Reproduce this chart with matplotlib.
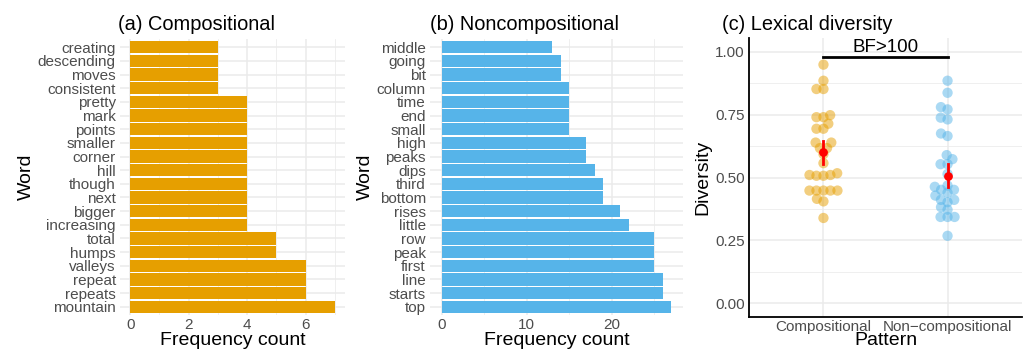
import numpy as np
import matplotlib
matplotlib.use("Agg")
import matplotlib.pyplot as plt

plt.rcParams['font.family'] = ['Liberation Sans', 'DejaVu Sans']

# Word frequencies, compositional patterns (bottom to top)
comp_words = ['mountain', 'repeats', 'repeat', 'valleys', 'humps', 'total',
              'increasing', 'bigger', 'next', 'though', 'hill', 'corner',
              'smaller', 'points', 'mark', 'pretty', 'consistent', 'moves',
              'descending', 'creating']
comp_counts = [7, 6, 6, 6, 5, 5, 4, 4, 4, 4, 4, 4, 4, 4, 4, 4, 3, 3, 3, 3]

# Word frequencies, noncompositional patterns (bottom to top)
noncomp_words = ['top', 'starts', 'line', 'first', 'peak', 'row', 'little',
                 'rises', 'bottom', 'third', 'dips', 'peaks', 'high', 'small',
                 'end', 'time', 'column', 'bit', 'going', 'middle']
noncomp_counts = [27, 26, 26, 25, 25, 25, 22, 21, 19, 19, 18, 17, 17, 15,
                  15, 15, 15, 14, 14, 13]

# Lexical diversity per participant
div_comp = [0.949, 0.885, 0.852, 0.852, 0.748, 0.740, 0.740, 0.714, 0.694,
            0.694, 0.639, 0.639, 0.617, 0.617, 0.593, 0.557, 0.517, 0.510,
            0.510, 0.507, 0.507, 0.448, 0.448, 0.448, 0.448, 0.448, 0.415,
            0.405, 0.339]
div_noncomp = [0.885, 0.837, 0.780, 0.771, 0.738, 0.731, 0.675, 0.665, 0.589,
               0.573, 0.553, 0.553, 0.514, 0.468, 0.463, 0.451, 0.451, 0.440,
               0.428, 0.411, 0.411, 0.402, 0.382, 0.372, 0.343, 0.343, 0.343,
               0.268]
# mean and interval (low, high)
summ_comp = (0.600, 0.552, 0.645)
summ_noncomp = (0.506, 0.461, 0.555)

patterns = ['Compositional', 'Non\u2212compositional']
orange = '#E69F00'
blue = '#56B4E9'
grid_c = '#EBEBEB'
tick_c = '#4D4D4D'

fig = plt.figure(figsize=(10.26, 3.53), dpi=100)
W, H = 1026, 353


def px_axes(x0, y0, x1, y1):
    return fig.add_axes([x0 / W, 1 - y1 / H, (x1 - x0) / W, (y1 - y0) / H])


def bar_panel(ax, words, counts, color, major, minor, xmax):
    y = np.arange(1, len(words) + 1)
    ax.barh(y, counts, height=0.9, color=color, zorder=2)
    ax.set_ylim(0.4, len(words) + 0.6)
    ax.set_xlim(-0.05 * xmax, 1.05 * xmax)
    ax.set_yticks(y)
    ax.set_yticklabels(words)
    ax.set_xticks(major)
    ax.set_xticks(minor, minor=True)
    ax.grid(True, which='major', color=grid_c, lw=1.1, zorder=0)
    ax.grid(True, which='minor', axis='x', color=grid_c, lw=0.55, zorder=0)
    for s in ax.spines.values():
        s.set_visible(False)
    ax.tick_params(length=0, labelsize=11, labelcolor=tick_c)
    ax.tick_params(axis='x', pad=2)
    ax.tick_params(axis='y', pad=3)
    ax.tick_params(which='minor', length=0)
    ax.set_xlabel('Frequency count', fontsize=14, labelpad=0)
    ax.set_ylabel('Word', fontsize=14, labelpad=2)


ax1 = px_axes(120, 39, 345, 315)
bar_panel(ax1, comp_words, comp_counts, orange, [0, 2, 4, 6], [1, 3, 5, 7], 7)
fig.text(118 / W, 1 - 30 / H, '(a) Compositional', fontsize=14.4, ha='left')

ax2 = px_axes(430, 39, 683, 315)
bar_panel(ax2, noncomp_words, noncomp_counts, blue, [0, 10, 20], [5, 15, 25], 27)
fig.text(430 / W, 1 - 30 / H, '(b) Noncompositional', fontsize=14.4, ha='left')


def swarm(vals, diam_px, xscale, yscale):
    # simple beeswarm: place each point at smallest |offset| without overlap
    order = np.argsort(vals)
    placed = []
    offs = np.zeros(len(vals))
    for i in order:
        yi = vals[i] * yscale
        near = [(xo, yo) for xo, yo in placed if abs(yo - yi) < diam_px]
        cands = [0.0]
        for xo, yo in near:
            dx = np.sqrt(diam_px ** 2 - (yo - yi) ** 2)
            cands += [xo + dx, xo - dx]
        cands.sort(key=lambda c: (abs(c), c))
        for c in cands:
            if all((c - xo) ** 2 + (yo - yi) ** 2 >= diam_px ** 2 - 1e-6
                   for xo, yo in near):
                offs[i] = c
                placed.append((c, yi))
                break
    return offs / xscale


ax3 = px_axes(749, 38, 1022, 317)
ax3.set_xlim(0.4, 2.6)
ax3.set_ylim(-0.055, 1.055)
xs_px = 273 / 2.2
ys_px = 279 / 1.11
for k, (vals, col, sm) in enumerate([(div_comp, orange, summ_comp),
                                     (div_noncomp, blue, summ_noncomp)]):
    vals = np.array(vals)
    xo = swarm(vals, 7.0, xs_px, ys_px)
    ax3.scatter(k + 1 + xo, vals, s=55, color=col, alpha=0.5,
                edgecolors='none', zorder=3)
    ax3.plot([k + 1, k + 1], [sm[1], sm[2]], color='red', lw=2, zorder=4)
    ax3.scatter([k + 1], [sm[0]], s=28, color='red', zorder=5)

ax3.plot([1, 2], [0.979, 0.979], color='black', lw=2, zorder=4)
ax3.text(1.5, 0.985, 'BF>100', ha='center', va='bottom', fontsize=13.5)

ax3.set_xticks([1, 2])
ax3.set_xticklabels(patterns)
ax3.set_yticks([0, 0.25, 0.5, 0.75, 1.0])
ax3.set_yticklabels(['0.00', '0.25', '0.50', '0.75', '1.00'])
ax3.set_yticks([0.125, 0.375, 0.625, 0.875], minor=True)
ax3.grid(True, which='major', color=grid_c, lw=1.1, zorder=0)
ax3.grid(True, which='minor', axis='y', color=grid_c, lw=0.55, zorder=0)
for s in ['top', 'right']:
    ax3.spines[s].set_visible(False)
for s in ['left', 'bottom']:
    ax3.spines[s].set_linewidth(1.3)
ax3.tick_params(length=0, labelsize=11, labelcolor=tick_c, pad=3)
ax3.tick_params(axis='x', pad=2)
ax3.tick_params(which='minor', length=0)
ax3.set_xlabel('Pattern', fontsize=14, labelpad=-1)
ax3.set_ylabel('Diversity', fontsize=14, labelpad=3)
fig.text(722 / W, 1 - 30 / H, '(c) Lexical diversity', fontsize=14.4, ha='left')

fig.savefig('out.png', dpi=100)
